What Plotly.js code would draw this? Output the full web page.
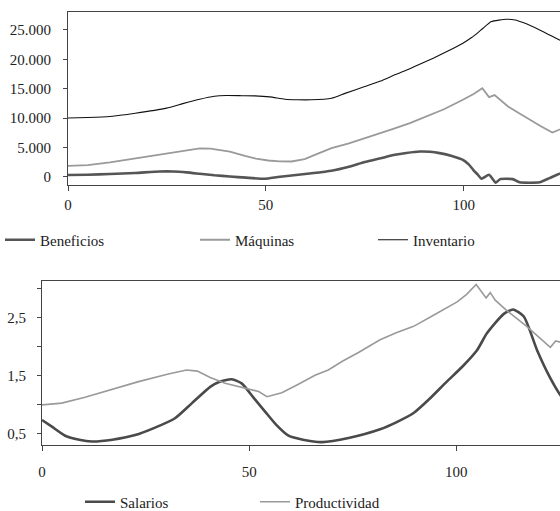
<!DOCTYPE html>
<html><head><meta charset="utf-8">
<script src="https://cdn.plot.ly/plotly-3.0.1.min.js"></script>
<style>html,body{margin:0;padding:0;overflow:hidden;background:#fff;width:560px;height:511px}#chart{width:640px;height:511px}</style>
</head><body><div id="chart"></div>
<script>
// ---- Top panel data ----
const benefX = [0, 5, 10.6, 17, 23.2, 26.6, 30, 33.3, 37, 40.9, 45, 49.7, 53, 56.5, 61, 66.6, 71, 75, 79, 82.6, 85.5, 88.9, 91.5, 93.9, 97, 99.8, 101.2, 102.4, 103.5, 104.5, 106.4, 108.1, 109.2, 112.4, 114.1, 119.2, 121.7, 124.2, 127];
const benefY = [290, 350, 460, 650, 900, 900, 750, 510, 250, 50, -150, -340, -50, 220, 550, 1020, 1700, 2500, 3150, 3740, 4050, 4300, 4250, 4030, 3550, 2890, 2150, 1190, 400, -340, 340, -1000, -400, -400, -940, -940, -220, 510, 1100];

const maqX = [0, 5, 10.6, 17, 24.9, 30, 33.3, 36, 40.9, 44.7, 47.5, 50.6, 53.5, 56.5, 59.8, 63, 66.6, 71, 75, 79, 82, 86.4, 90, 95, 99.8, 102.5, 104.7, 106.4, 107.8, 111.2, 114, 116.7, 119.5, 122.4, 124.2, 127];
const maqY = [1870, 2000, 2440, 3100, 3910, 4500, 4820, 4800, 4300, 3570, 3100, 2770, 2620, 2600, 3010, 3900, 4880, 5700, 6580, 7350, 8100, 9130, 10100, 11500, 13100, 14100, 15090, 13560, 13900, 11960, 10800, 9700, 8600, 7540, 8000, 8800];

const invX = [0, 5, 10.6, 17, 24.9, 29, 33.3, 37, 40, 44, 47.2, 51, 54.8, 58, 61.5, 66.6, 70, 75, 79, 82.6, 84.7, 88, 92.3, 96, 99.8, 102, 103.6, 104.9, 107, 110.8, 113, 115, 119.2, 124.2, 127];
const invY = [10000, 10080, 10250, 10800, 11680, 12450, 13200, 13700, 13830, 13800, 13780, 13600, 13200, 13100, 13100, 13380, 14200, 15360, 16300, 17350, 17910, 18900, 20190, 21400, 22740, 23700, 24550, 25290, 26420, 26820, 26700, 26250, 25000, 23300, 22400];

// ---- Bottom panel data ----
const salX = [0, 2.3, 5.6, 9, 12, 17, 22.5, 27, 32.1, 36.2, 40.6, 42.6, 45.8, 48.2, 51, 53.9, 56.5, 59.5, 63, 67.6, 74, 81.6, 85.5, 89.7, 93.5, 97.7, 101.5, 105, 107.4, 111.4, 113.7, 116.3, 119.5, 122.7, 125.1, 127];
const salY = [0.74, 0.63, 0.47, 0.40, 0.37, 0.40, 0.48, 0.60, 0.77, 1.03, 1.31, 1.39, 1.44, 1.37, 1.13, 0.88, 0.66, 0.47, 0.40, 0.36, 0.43, 0.58, 0.70, 0.86, 1.10, 1.40, 1.66, 1.94, 2.23, 2.56, 2.64, 2.52, 1.94, 1.46, 1.17, 1.0];

const prodX = [0, 4.75, 10.4, 16.8, 23.3, 30.5, 34.9, 37.5, 40.6, 44.2, 49, 52.3, 54.3, 57.9, 62, 65.9, 69.1, 72.5, 76.4, 81.6, 85.5, 89.7, 94.5, 100.2, 102.5, 104.8, 107.2, 108.2, 109.4, 112.2, 117, 122.7, 124, 126];
const prodY = [1.0, 1.03, 1.13, 1.27, 1.40, 1.53, 1.60, 1.58, 1.47, 1.37, 1.29, 1.23, 1.14, 1.21, 1.36, 1.51, 1.60, 1.75, 1.90, 2.12, 2.24, 2.35, 2.54, 2.77, 2.90, 3.07, 2.84, 2.93, 2.80, 2.62, 2.35, 1.99, 2.10, 2.06];

// ---- Tick labels ----
const topYTickVals = [0, 5000, 10000, 15000, 20000, 25000];
const topYTickText = ['0', '5.000', '10.000', '15.000', '20.000', '25.000'];
const botYTickVals = [0.5, 1, 1.5, 2, 2.5, 3];
const botYTickText = ['0,5', '', '1,5', '', '2,5', ''];
const xTickVals = [0, 50, 100];

const W = 640, H = 511, R = 18;
const PW = W - R;
const font = {family: "'Liberation Serif', 'Times New Roman', serif", size: 15, color: '#222'};
const axLine = '#444';

const traces = [
  {x: benefX, y: benefY, name: 'Beneficios', mode: 'lines', xaxis: 'x', yaxis: 'y', legend: 'legend',
   line: {color: '#555555', width: 2.6, shape: 'spline', smoothing: 0.5}},
  {x: maqX, y: maqY, name: 'Máquinas', mode: 'lines', xaxis: 'x', yaxis: 'y', legend: 'legend2',
   line: {color: '#9a9a9a', width: 1.8}},
  {x: invX, y: invY, name: 'Inventario', mode: 'lines', xaxis: 'x', yaxis: 'y', legend: 'legend3',
   line: {color: '#111111', width: 1.1, shape: 'spline', smoothing: 0.5}},
  {x: salX, y: salY, name: 'Salarios', mode: 'lines', xaxis: 'x2', yaxis: 'y2', legend: 'legend4',
   line: {color: '#4a4a4a', width: 2.6, shape: 'spline', smoothing: 0.6}},
  {x: prodX, y: prodY, name: 'Productividad', mode: 'lines', xaxis: 'x2', yaxis: 'y2', legend: 'legend5',
   line: {color: '#9a9a9a', width: 1.6}}
];

function axisBase() {
  return {showline: true, mirror: true, linecolor: axLine, linewidth: 1, showgrid: false, zeroline: false,
          ticks: 'outside', ticklen: 5, tickcolor: axLine, tickfont: font, fixedrange: true, automargin: false};
}
function leg(xpx, ypx) {
  return {xref: 'paper', yref: 'paper', x: xpx / PW, y: 1 - ypx / H, xanchor: 'left', yanchor: 'middle',
          orientation: 'h', font: font, bgcolor: 'rgba(0,0,0,0)', borderwidth: 0, itemwidth: 30};
}

const layout = {
  width: W, height: H,
  margin: {l: 0, r: R, t: 0, b: 0, autoexpand: false},
  paper_bgcolor: '#fff', plot_bgcolor: '#fff',
  font: font,
  showlegend: true,
  xaxis: Object.assign(axisBase(), {domain: [68 / PW, 1], range: [0, 140], tickvals: xTickVals, anchor: 'y', ticklabelstandoff: 1}),
  yaxis: Object.assign(axisBase(), {domain: [1 - 185 / H, 1 - 12 / H], range: [-1400, 28050], tickvals: topYTickVals, ticktext: topYTickText, anchor: 'x', ticklen: 4, ticklabelstandoff: 9}),
  xaxis2: Object.assign(axisBase(), {domain: [42 / PW, 1], range: [0, 140], tickvals: xTickVals, anchor: 'y2', ticklabelstandoff: 8}),
  yaxis2: Object.assign(axisBase(), {domain: [1 - 445.3 / H, 1 - 281 / H], range: [0.305, 3.13], tickvals: botYTickVals, ticktext: botYTickText, anchor: 'x2', ticklen: 4, ticklabelstandoff: 8}),
  legend: leg(0, 240),
  legend2: leg(195, 240),
  legend3: leg(373, 240),
  legend4: leg(80, 502),
  legend5: leg(255, 502)
};

Plotly.newPlot('chart', traces, layout, {staticPlot: true, displayModeBar: false});
</script></body></html>
